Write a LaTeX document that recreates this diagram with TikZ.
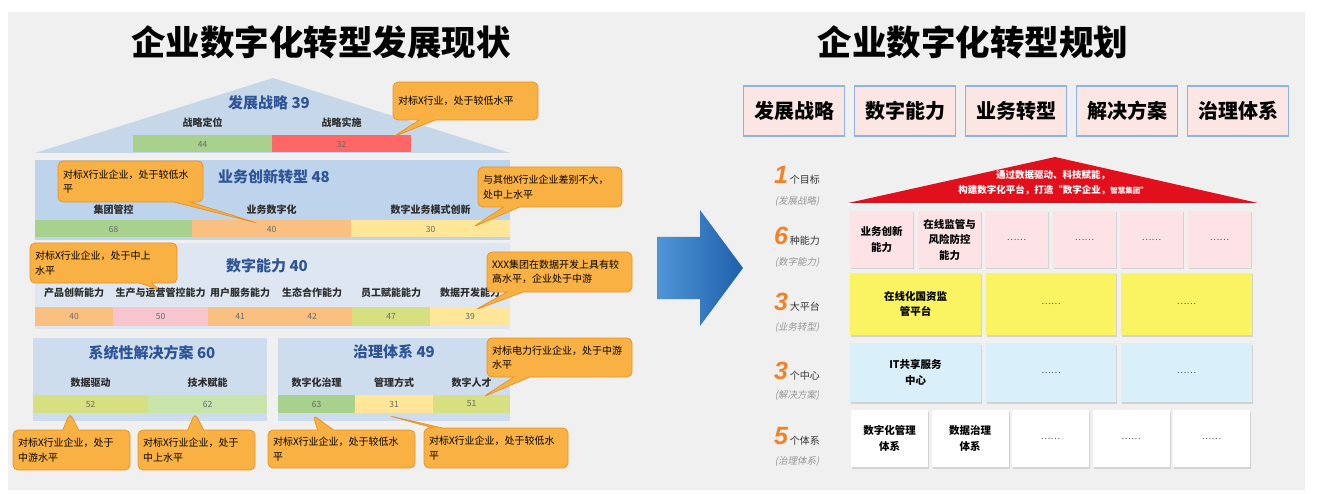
\documentclass[tikz,border=0pt]{standalone}
\usepackage{fontspec}
\setmainfont{Noto Sans CJK SC}
\newfontfamily\numfont{Liberation Sans}
\newfontfamily\slantfont{Noto Sans CJK SC}[FakeSlant=0.2]
\usetikzlibrary{shapes.callouts, shadows}

\definecolor{panelgrey}{RGB}{240,240,240}
\definecolor{roofblue}{RGB}{199,215,234}
\definecolor{rowblue}{RGB}{189,212,236}
\definecolor{rowpale}{RGB}{222,231,241}
\definecolor{rowmid}{RGB}{205,221,237}
\definecolor{titleblue}{RGB}{46,84,150}
\definecolor{labelgrey}{RGB}{45,45,45}
\definecolor{numgrey}{RGB}{105,105,105}
\definecolor{bargreen}{RGB}{169,209,142}
\definecolor{barred}{RGB}{255,102,102}
\definecolor{barorange}{RGB}{250,192,130}
\definecolor{baryellow}{RGB}{255,230,153}
\definecolor{barpink}{RGB}{248,197,206}
\definecolor{barlime}{RGB}{214,224,128}
\definecolor{barlight}{RGB}{200,228,170}
\definecolor{noteorange}{RGB}{248,177,66}
\definecolor{noteedge}{RGB}{232,148,40}
\definecolor{arrowlight}{RGB}{80,150,215}
\definecolor{arrowdark}{RGB}{30,95,170}
\definecolor{headfill}{RGB}{252,230,228}
\definecolor{headedge}{RGB}{141,180,226}
\definecolor{roofred}{RGB}{226,16,28}
\definecolor{cellpink}{RGB}{253,227,229}
\definecolor{cellyellow}{RGB}{251,244,98}
\definecolor{cellblue}{RGB}{217,240,250}
\definecolor{goalorange}{RGB}{240,130,40}
\definecolor{subgrey}{RGB}{150,150,150}

\newcommand{\fsz}[2]{\fontsize{#1}{#2}\selectfont}
\newcommand{\bignum}[1]{{\numfont\bfseries\itshape\fsz{25}{25}\textcolor{goalorange}{#1}}}
\newcommand{\dotsmark}{{\mdseries\fsz{9}{9}\textcolor{black!70}{……}}}

\begin{document}
\begin{tikzpicture}[x=1pt, y=-1pt,
		bar/.style={minimum height=17pt, inner sep=0pt, font=\fsz{8.5}{9}, text=numgrey},
		barlabel/.style={font=\bfseries\fsz{10}{11}, text=labelgrey},
		housetitle/.style={font=\bfseries\fsz{15}{16}, text=titleblue},
		layer/.style={inner sep=0pt},
		note/.style={rectangle callout, rounded corners=5pt, fill=noteorange, draw=noteedge, line width=0.8pt, align=left, font=\fsz{10}{14.5}, inner xsep=5pt, inner ysep=3pt, callout pointer width=16pt},
		headbox/.style={draw=headedge, line width=1.2pt, fill=headfill, minimum width=101pt, minimum height=50pt, font=\bfseries\fsz{20}{22}},
		cell/.style={inner sep=0pt, align=center, font=\bfseries\fsz{10.5}{15.5}, drop shadow={shadow xshift=1.2pt, shadow yshift=-1.5pt, opacity=0.25}},
		goal/.style={anchor=base, font=\fsz{10}{12}, text=black!80},
		goalsub/.style={font=\slantfont\fsz{9.5}{11}, text=subgrey}]

		\useasboundingbox (0,0) rectangle (1319,494);
		\fill[white] (0,0) rectangle (1319,494);
		\fill[panelgrey] (8,12) rectangle (1305,490);

		\node[font=\bfseries\fsz{34.5}{36}] (ltitle) at (321,42) {企业数字化转型发展现状};
		\node[font=\bfseries\fsz{34.5}{36}] (rtitle) at (973,42) {企业数字化转型规划};

		\fill[roofblue] (35,153) -- (273,78) -- (510,153) -- cycle;
		\node[housetitle] (strat) at (269,103) {发展战略 39};
		\node[barlabel] (l11) at (202.5,123) {战略定位};
		\node[barlabel] (l12) at (341.5,123) {战略实施};
		\node[bar, fill=bargreen, minimum width=139pt] (b11) at (202.5,144) {44};
		\node[bar, fill=barred, minimum width=139pt] (b12) at (341.5,144) {32};

		\node[layer, fill=rowblue, minimum width=475pt, minimum height=80pt] (innov) at (272.5,200) {};
		\node[housetitle] (innovt) at (274,177) {业务创新转型 48};
		\node[barlabel] (l21) at (113.5,210) {集团管控};
		\node[barlabel] (l22) at (271.5,210) {业务数字化};
		\node[barlabel] (l23) at (430.5,210) {数字业务模式创新};
		\node[bar, fill=bargreen, minimum width=157pt] (b21) at (113.5,229) {68};
		\node[bar, fill=barorange, minimum width=159pt] (b22) at (271.5,229) {40};
		\node[bar, fill=baryellow, minimum width=159pt] (b23) at (430.5,229) {30};

		\node[layer, fill=rowpale, minimum width=475pt, minimum height=86pt] (digi) at (272.5,286) {};
		\node[housetitle] (digit) at (267,266) {数字能力 40};
		\node[barlabel] (l31) at (74,293) {产品创新能力};
		\node[barlabel] (l32) at (160.5,293) {生产与运营管控能力};
		\node[barlabel] (l33) at (240,293) {用户服务能力};
		\node[barlabel] (l34) at (312,293) {生态合作能力};
		\node[barlabel] (l35) at (391,293) {员工赋能能力};
		\node[barlabel] (l36) at (470,293) {数据开发能力};
		\node[bar, fill=barorange, minimum width=78pt, minimum height=19pt] (b31) at (74,316.5) {40};
		\node[bar, fill=barpink, minimum width=95pt, minimum height=19pt] (b32) at (160.5,316.5) {50};
		\node[bar, fill=barorange, minimum width=64pt, minimum height=19pt] (b33) at (240,316.5) {41};
		\node[bar, fill=barorange, minimum width=80pt, minimum height=19pt] (b34) at (312,316.5) {42};
		\node[bar, fill=barlime, minimum width=78pt, minimum height=19pt] (b35) at (391,316.5) {47};
		\node[bar, fill=baryellow, minimum width=80pt, minimum height=19pt] (b36) at (470,316.5) {39};

		\node[layer, fill=rowmid, minimum width=234pt, minimum height=83pt] (solu) at (150,379.5) {};
		\node[housetitle] (solut) at (152,353) {系统性解决方案 60};
		\node[barlabel] (l41) at (90.5,383) {数据驱动};
		\node[barlabel] (l42) at (207.5,383) {技术赋能};
		\node[bar, fill=barlime, minimum width=115pt, minimum height=18pt] (b41) at (90.5,404) {52};
		\node[bar, fill=barlight, minimum width=119pt, minimum height=18pt] (b42) at (207.5,404) {62};

		\node[layer, fill=rowmid, minimum width=232pt, minimum height=83pt] (gov) at (394,379.5) {};
		\node[housetitle] (govt) at (394,352) {治理体系 49};
		\node[barlabel] (l51) at (316.5,383) {数字化治理};
		\node[barlabel] (l52) at (394,383) {管理方式};
		\node[barlabel] (l53) at (471.5,383) {数字人才};
		\node[bar, fill=bargreen, minimum width=77pt, minimum height=18pt] (b51) at (316.5,404) {63};
		\node[bar, fill=baryellow, minimum width=78pt, minimum height=18pt] (b52) at (394,404) {31};
		\node[bar, fill=barlime, minimum width=77pt, minimum height=18pt] (b53) at (471.5,404) {51};

		\coordinate (p1) at (393,137);
		\coordinate (p2) at (257,223);
		\coordinate (p3) at (473,227);
		\coordinate (p4) at (160,290);
		\coordinate (p5) at (475,310);
		\coordinate (p6) at (483,397);
		\coordinate (p7) at (70,413);
		\coordinate (p8) at (195,413);
		\coordinate (p9) at (313,415);
		\coordinate (p10) at (390,416);

		\node[note, text width=135pt, minimum height=38pt, callout absolute pointer={(p1)}] (c1) at (465.5,101) {对标X行业，处于较低水平};
		\node[note, text width=135pt, minimum height=41pt, callout absolute pointer={(p2)}] (c2) at (130.5,181.5) {对标X行业企业，处于较低水\\平};
		\node[note, text width=134pt, minimum height=40pt, callout absolute pointer={(p3)}] (c3) at (550,187) {与其他X行业企业差别不大，\\处中上水平};
		\node[note, text width=137pt, minimum height=40pt, callout pointer width=12pt, callout absolute pointer={(p4)}] (c4) at (103.5,263) {对标X行业企业，处于中上\\水平};
		\node[note, text width=135pt, minimum height=40pt, callout absolute pointer={(p5)}] (c5) at (559.5,272) {XXX集团在数据开发上具有较\\高水平，企业处于中游};
		\node[note, text width=135pt, minimum height=39pt, callout absolute pointer={(p6)}] (c6) at (559.5,357.5) {对标电力行业企业，处于中游\\水平};
		\node[note, text width=107pt, minimum height=40pt, callout absolute pointer={(p7)}] (c7) at (71.5,450) {对标X行业企业，处于\\中游水平};
		\node[note, text width=107pt, minimum height=40pt, callout absolute pointer={(p8)}] (c8) at (196.5,450) {对标X行业企业，处于\\中上水平};
		\node[note, text width=137pt, minimum height=38pt, callout absolute pointer={(p9)}] (c9) at (341.5,449) {对标X行业企业，处于较低水\\平};
		\node[note, text width=134pt, minimum height=40pt, callout pointer width=9pt, callout absolute pointer={(p10)}] (c10) at (496,448) {对标X行业企业，处于较低水\\平};

		\shade[left color=arrowlight, right color=arrowdark] (657,237) -- (700,237) -- (700,210) -- (743,268) -- (700,326) -- (700,299) -- (657,299) -- cycle;

		\node[headbox] (h1) at (794,111) {发展战略};
		\node[headbox] (h2) at (905,111) {数字能力};
		\node[headbox] (h3) at (1016,111) {业务转型};
		\node[headbox] (h4) at (1127,111) {解决方案};
		\node[headbox] (h5) at (1238,111) {治理体系};

		\fill[roofred] (848,203) -- (1055,157) -- (1258,203) -- cycle;
		\draw[white, line width=1.5pt] (848,204) -- (1258,204);
		\node[font=\bfseries\fsz{9.5}{15}, text=white, align=center] (motto) at (1053,183) {通过数据驱动、科技赋能，\\构建数字化平台，打造“数字企业，{\fsz{7.5}{15}智慧集团”}};

		\node[goal] (g1) at (797,184) {\bignum{1}\,个目标};
		\node[goalsub] (g1s) at (797,201) {(发展战略)};
		\node[goal] (g2) at (797,245) {\bignum{6}\,种能力};
		\node[goalsub] (g2s) at (797,262) {(数字能力)};
		\node[goal] (g3) at (797,310) {\bignum{3}\,大平台};
		\node[goalsub] (g3s) at (797,327) {(业务转型)};
		\node[goal] (g4) at (797,379) {\bignum{3}\,个中心};
		\node[goalsub] (g4s) at (797,395) {(解决方案)};
		\node[goal] (g5) at (797,444) {\bignum{5}\,个体系};
		\node[goalsub] (g5s) at (797,461) {(治理体系)};

		\node[cell, fill=cellpink, minimum width=63pt, minimum height=57pt] (a1) at (881.5,239.5) {业务创新\\能力};
		\node[cell, fill=cellpink, minimum width=63pt, minimum height=57pt] (a2) at (949.5,239.5) {在线监管与\\风险防控\\能力};
		\node[cell, fill=cellpink, minimum width=63pt, minimum height=57pt] (a3) at (1016.5,239.5) {\dotsmark};
		\node[cell, fill=cellpink, minimum width=63pt, minimum height=57pt] (a4) at (1084.5,239.5) {\dotsmark};
		\node[cell, fill=cellpink, minimum width=63pt, minimum height=57pt] (a5) at (1151.5,239.5) {\dotsmark};
		\node[cell, fill=cellpink, minimum width=63pt, minimum height=57pt] (a6) at (1219.5,239.5) {\dotsmark};

		\node[cell, fill=cellyellow, minimum width=131pt, minimum height=62pt] (pf1) at (915.5,304) {在线化国资监\\管平台};
		\node[cell, fill=cellyellow, minimum width=130pt, minimum height=62pt] (pf2) at (1051,304) {\dotsmark};
		\node[cell, fill=cellyellow, minimum width=131pt, minimum height=62pt] (pf3) at (1186.5,304) {\dotsmark};

		\node[cell, fill=cellblue, minimum width=131pt, minimum height=59pt] (ct1) at (915.5,372.5) {IT共享服务\\中心};
		\node[cell, fill=cellblue, minimum width=130pt, minimum height=59pt] (ct2) at (1051,372.5) {\dotsmark};
		\node[cell, fill=cellblue, minimum width=131pt, minimum height=59pt] (ct3) at (1186.5,372.5) {\dotsmark};

		\node[cell, fill=white, minimum width=77pt, minimum height=57pt] (sy1) at (889.5,438.5) {数字化管理\\体系};
		\node[cell, fill=white, minimum width=77pt, minimum height=57pt] (sy2) at (970,438.5) {数据治理\\体系};
		\node[cell, fill=white, minimum width=77pt, minimum height=57pt] (sy3) at (1050.5,438.5) {\dotsmark};
		\node[cell, fill=white, minimum width=77pt, minimum height=57pt] (sy4) at (1131,438.5) {\dotsmark};
		\node[cell, fill=white, minimum width=77pt, minimum height=57pt] (sy5) at (1211.5,438.5) {\dotsmark};
\end{tikzpicture}
\end{document}
